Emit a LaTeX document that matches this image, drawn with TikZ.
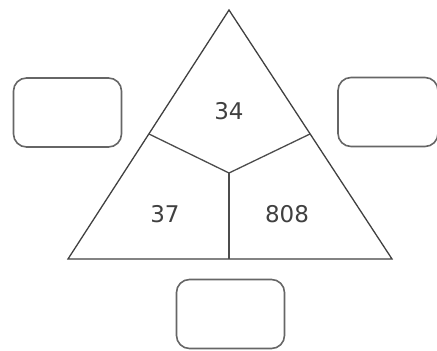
\documentclass[tikz,border=0pt]{standalone}
\usepackage{fontspec}
\setsansfont{DejaVu Sans}
\begin{document}
\begin{tikzpicture}[x=1pt,y=-1pt,
  tri/.style={draw=black!75, line width=1.3pt, line join=miter},
  split/.style={draw=black!70, line width=1.3pt},
  answerbox/.style={draw=black!60, line width=1.6pt, rounded corners=13pt, minimum width=108pt, minimum height=69pt},
  num/.style={font=\sffamily\fontsize{23}{26}\selectfont, text=black!75}]
\useasboundingbox (0,0) rectangle (437,351);
\coordinate (apex) at (229,10);
\coordinate (bl) at (68,259);
\coordinate (br) at (392,259);
\coordinate (ctr) at (229,173);
\coordinate (ls) at (149,134);
\coordinate (rs) at (310,134);
\coordinate (bm) at (229,259);
\draw[tri] (apex) -- (br) -- (bl) -- cycle;
\draw[split] (ls) -- (ctr) -- (rs);
\draw[split] (ctr) -- (bm);
\node[num] (top) at (229,111) {34};
\node[num] (left) at (165,214) {37};
\node[num] (right) at (287,214) {808};
\node[answerbox] (boxl) at (67.5,112.5) {};
\node[answerbox, minimum width=100pt] (boxr) at (388,112) {};
\node[answerbox] (boxb) at (230.5,314) {};
\end{tikzpicture}
\end{document}
